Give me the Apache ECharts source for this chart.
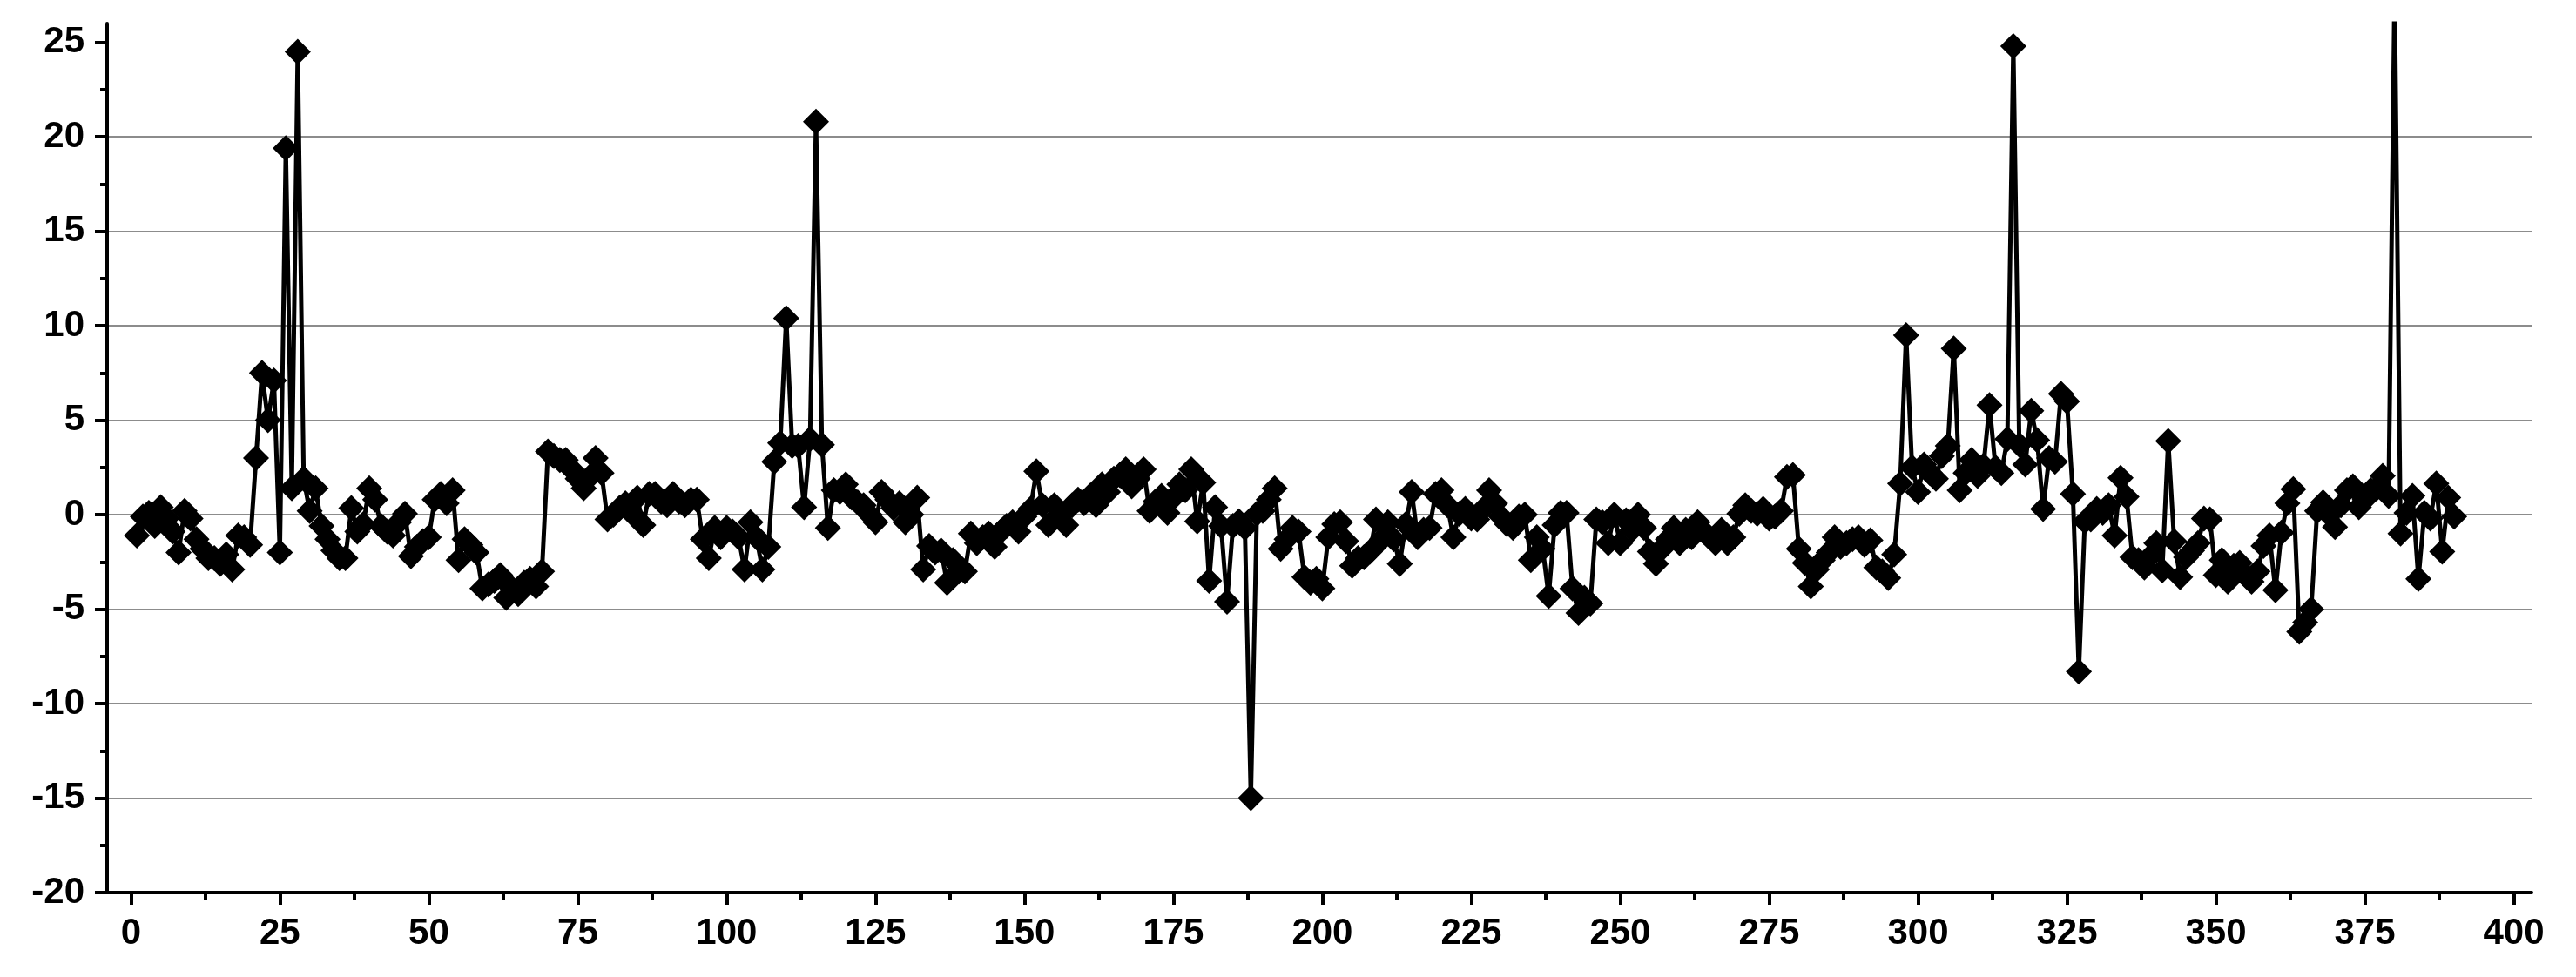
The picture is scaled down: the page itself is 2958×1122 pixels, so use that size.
<!DOCTYPE html>
<html><head><meta charset="utf-8">
<script src="https://cdn.jsdelivr.net/npm/echarts@6/dist/echarts.min.js"></script>
<style>html,body{margin:0;padding:0;background:#fff}#c{width:2958px;height:1122px}</style>
</head><body><div id="c"></div>
<script>
// Series values, x = 1, 2, 3, ... (one point per integer x)
const seg1 = [-1.1,-0.1,0.1,-0.6,0.4,-0.2,-0.9,-2.0,0.2,-0.2,-1.3,-1.8,-2.3,-2.3,-2.6,-2.1,-2.9,-1.1,-1.2,-1.6,3.0,7.5,5.0,7.1,-2.0,19.4,1.4,24.5,1.9,0.2,1.4,-0.6,-1.3,-1.9,-2.3,-2.3,0.35,-0.9,-0.5,1.4,0.8,-0.6,-0.9,-1.1,-0.4,0.05,-2.2,-1.7,-1.4,-1.2];
const seg2 = [0.8,1.1,0.6,1.3,-2.4,-1.3,-1.6,-2.0,-3.9,-3.7,-3.5,-3.2,-4.4,-3.9,-4.2,-3.6,-3.4,-3.8,-3.0,3.35,3.1,2.9,2.9,2.4,1.9,1.4,2.0,3.0,2.2,-0.25,0.0,0.35,0.6,0.1,0.9,-0.55,1.1,1.1,0.7,0.5,1.1,0.7,0.5,0.8,0.8,-1.3,-2.3,-0.7,-1.2,-0.7];
const seg3 = [-0.9,-1.2,-2.9,-0.4,-1.2,-2.9,-1.7,2.8,3.8,10.4,3.65,3.65,0.4,4.0,20.8,3.7,-0.7,1.3,1.2,1.6,0.9,0.65,0.5,0.0,-0.4,1.2,0.8,0.35,0.6,-0.4,0.0,0.9,-2.9,-1.65,-2.0,-1.9,-3.6,-2.4,-3.0,-3.0,-1.0,-1.5,-1.2,-1.0,-1.7,-0.9,-0.6,-0.4,-0.9,-0.1];
const seg4 = [0.3,2.3,0.5,-0.55,0.5,0.0,-0.55,0.5,0.8,0.6,1.0,0.5,1.6,1.2,1.9,2.1,2.4,1.5,1.9,2.4,0.2,0.7,1.0,0.1,0.9,1.6,1.3,2.4,-0.35,1.7,-3.5,0.4,-0.6,-4.6,-0.6,-0.35,-0.7,-15.0,0.05,0.2,0.8,1.4,-1.8,-1.3,-0.7,-0.9,-3.3,-3.6,-3.4,-3.9];
const seg5 = [-1.2,-0.5,-0.4,-1.4,-2.7,-2.3,-2.25,-1.95,-0.25,-1.3,-0.4,-1.3,-2.6,-0.5,1.2,-1.2,-0.8,-0.7,1.1,1.3,0.5,-1.2,0.05,0.3,-0.2,-0.25,0.3,1.3,0.6,-0.1,-0.5,-0.7,-0.1,0.0,-2.4,-1.2,-1.8,-4.3,-0.55,0.1,0.1,-3.9,-5.2,-4.4,-4.7,-0.25,-0.4,-1.5,0.0,-1.5];
const seg6 = [-0.3,-0.8,0.0,-0.7,-1.95,-2.6,-1.8,-1.3,-0.7,-1.5,-0.8,-1.2,-0.4,-0.9,-1.2,-1.5,-0.8,-1.5,-1.2,0.05,0.5,0.2,0.05,0.3,-0.2,-0.1,0.2,2.0,2.1,-1.8,-2.55,-3.8,-2.9,-2.4,-2.0,-1.2,-1.7,-1.5,-1.3,-1.2,-1.6,-1.35,-2.8,-3.0,-3.35,-2.1,1.65,9.5,2.5,1.2];
const seg7 = [2.65,2.2,1.9,3.1,3.65,8.8,1.3,2.2,2.9,2.05,2.6,5.8,2.5,2.2,4.0,24.8,3.7,2.65,5.5,3.95,0.3,3.0,2.8,6.4,6.0,1.1,-8.3,-0.35,-0.25,0.3,0.1,0.5,-1.1,1.95,0.95,-2.25,-2.4,-2.8,-2.2,-1.5,-2.95,3.9,-1.4,-3.3,-2.25,-1.9,-1.5,-0.2,-0.25,-3.2];
const seg8 = [-2.4,-3.55,-2.7,-2.55,-3.2,-3.55,-3.0,-1.65,-1.1,-4.0,-0.95,0.6,1.35,-6.2,-5.7,-5.0,0.2,0.65,0.0,-0.65,0.5,1.3,1.5,0.4,0.8,1.3,1.4,2.05,1.0,28,-1.0,0.1,1.0,-3.4,0.1,-0.2,1.65,-1.95,0.9,-0.1];
const values = [].concat(seg1, seg2, seg3, seg4, seg5, seg6, seg7, seg8);

// Tick values
const xTicks = [0,25,50,75,100,125,150,175,200,225,250,275,300,325,350,375,400];
const xMinorTicks = [12.5,37.5,62.5,87.5,112.5,137.5,162.5,187.5,212.5,237.5,262.5,287.5,312.5,337.5,362.5,387.5];
const yTicks = [-20,-15,-10,-5,0,5,10,15,20,25];
const yMinorTicks = [-17.5,-12.5,-7.5,-2.5,2.5,7.5,12.5,17.5,22.5];

const points = values.map((v, i) => [i + 1, v]);

const lab = {color:'#000', fontSize:42, fontWeight:'bold', fontFamily:'Liberation Sans, Arial, sans-serif'};
const blk = {color:'#000', width:4};

const chart = echarts.init(document.getElementById('c'), null, {renderer:'canvas'});
chart.setOption({
  animation:false,
  backgroundColor:'#fff',
  grid:{left:123, right:51, top:27, bottom:97},
  xAxis:[
    {type:'value', min:-4, max:403, position:'bottom',
     axisLine:{show:true, onZero:false, lineStyle:blk},
     axisTick:{show:true, customValues:xTicks, length:14, lineStyle:blk},
     axisLabel:Object.assign({customValues:xTicks, margin:26}, lab),
     splitLine:{show:false}},
    {type:'value', min:-4, max:403, position:'bottom',
     axisLine:{show:false, onZero:false},
     axisTick:{show:true, customValues:xMinorTicks, length:8, lineStyle:blk},
     axisLabel:{show:false}, splitLine:{show:false}}
  ],
  yAxis:[
    {type:'value', min:-20, max:26, interval:5, position:'left',
     axisLine:{show:true, onZero:false, lineStyle:blk},
     axisTick:{show:true, customValues:yTicks, length:14, lineStyle:blk},
     axisLabel:Object.assign({customValues:yTicks, margin:26}, lab),
     splitLine:{show:true, showMinLine:false, showMaxLine:false, lineStyle:{color:'#8c8c8c', width:2}}},
    {type:'value', min:-20, max:26, position:'left',
     axisLine:{show:false, onZero:false},
     axisTick:{show:true, customValues:yMinorTicks, length:8, lineStyle:blk},
     axisLabel:{show:false}, splitLine:{show:false}}
  ],
  series:[{
    type:'line', xAxisIndex:0, yAxisIndex:0, data:points, clip:true,
    symbol:'diamond', symbolSize:30, showAllSymbol:true,
    itemStyle:{color:'#000'}, lineStyle:{color:'#000', width:5}
  }]
});
</script></body></html>
